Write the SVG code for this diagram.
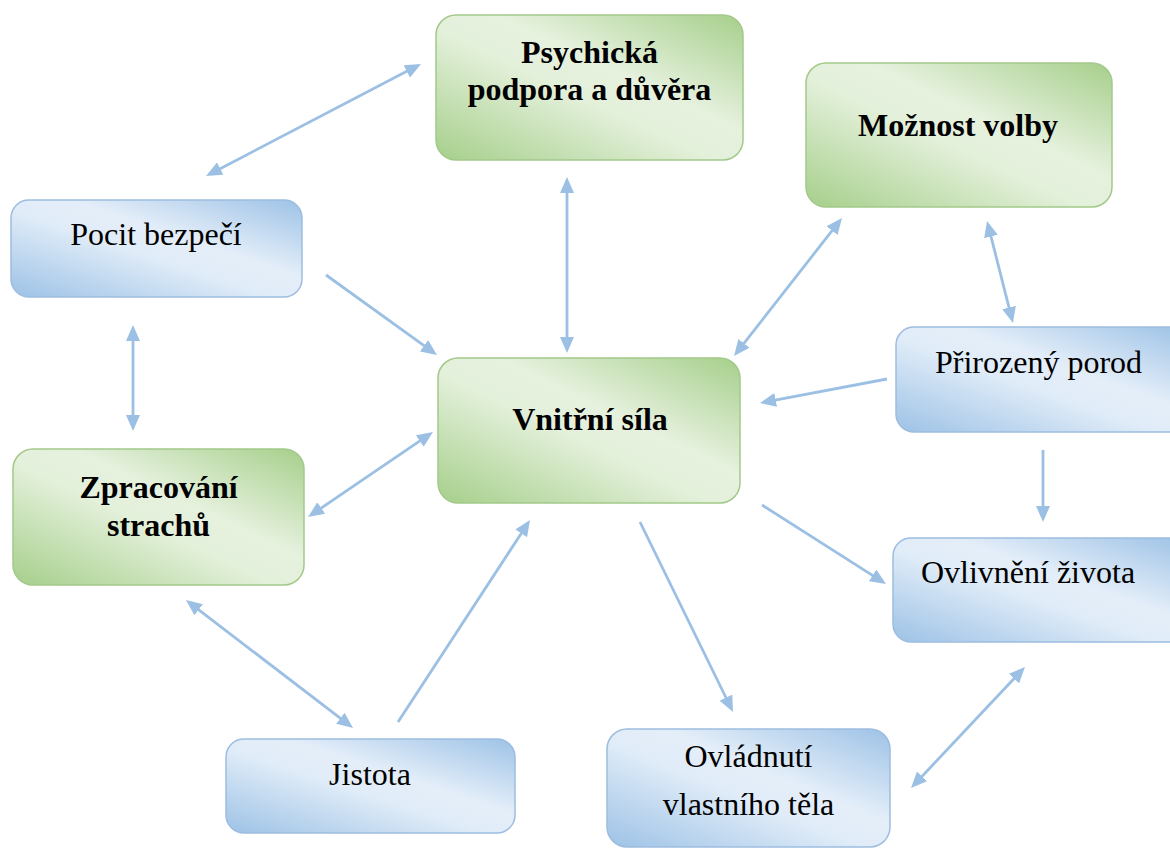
<svg xmlns="http://www.w3.org/2000/svg" width="1170" height="850" viewBox="0 0 1170 850">
<defs>
<linearGradient id="gGreen" x1="0" y1="1" x2="1" y2="0">
<stop offset="0" stop-color="#a6cf8b"/>
<stop offset="0.45" stop-color="#e3f0da"/>
<stop offset="0.6" stop-color="#e6f1de"/>
<stop offset="1" stop-color="#a6cf8b"/>
</linearGradient>
<linearGradient id="gBlue" x1="0" y1="1" x2="1" y2="0">
<stop offset="0" stop-color="#9dc2e6"/>
<stop offset="0.45" stop-color="#e0ecf8"/>
<stop offset="0.6" stop-color="#e4eef9"/>
<stop offset="1" stop-color="#9dc2e6"/>
</linearGradient>
<marker id="ah" markerUnits="userSpaceOnUse" markerWidth="16" markerHeight="14" refX="6" refY="7" orient="auto-start-reverse">
<path d="M0,0 L16,7 L0,14 z" fill="#9cc0e4"/>
</marker>
</defs>
<style>
.green rect{fill:url(#gGreen);stroke:#a3c98a;stroke-width:1.5}
.blue rect{fill:url(#gBlue);stroke:#9dbde0;stroke-width:1.5}
.green text{font-family:"Liberation Serif","Times New Roman",serif;font-size:32px;font-weight:bold;fill:#000;text-anchor:middle}
.blue text{font-family:"Liberation Serif","Times New Roman",serif;font-size:32px;fill:#000;text-anchor:middle}
#connectors line{stroke:#9cc0e4;stroke-width:2.8;fill:none}
.one{marker-end:url(#ah)}
.two{marker-start:url(#ah);marker-end:url(#ah)}
</style>
<rect x="0" y="0" width="1170" height="850" fill="#ffffff"/>
<g id="connectors">
<line class="two" x1="214.9" y1="171.4" x2="412.1" y2="68.6"/>
<line class="two" x1="567" y1="187" x2="567" y2="343"/>
<line class="two" x1="740.2" y1="348.1" x2="835.8" y2="225.9"/>
<line class="two" x1="989.5" y1="230.7" x2="1010.5" y2="313.3"/>
<line class="one" x1="887" y1="379" x2="769.8" y2="401.1"/>
<line class="one" x1="326" y1="275" x2="428.9" y2="349.2"/>
<line class="two" x1="133" y1="335" x2="133" y2="421"/>
<line class="two" x1="316.3" y1="511.4" x2="424.7" y2="437.6"/>
<line class="two" x1="193.9" y1="606.1" x2="345.1" y2="721.9"/>
<line class="one" x1="398" y1="722" x2="524.5" y2="528.4"/>
<line class="one" x1="640" y1="522" x2="728.6" y2="703"/>
<line class="one" x1="762" y1="505" x2="877.6" y2="578.6"/>
<line class="one" x1="1043" y1="450" x2="1043" y2="512"/>
<line class="two" x1="917.9" y1="780.7" x2="1018.1" y2="674.3"/>
</g>
<g id="psychicka" class="green">
<rect x="436" y="15" width="307" height="145" rx="20"/>
<text x="589.5" y="63">Psychická</text>
<text x="589.5" y="100">podpora a důvěra</text>
</g>
<g id="moznost" class="green">
<rect x="806" y="63" width="306" height="144" rx="20"/>
<text x="958" y="136">Možnost volby</text>
</g>
<g id="pocit" class="blue">
<rect x="11" y="200" width="291" height="97" rx="18"/>
<text x="156" y="245">Pocit bezpečí</text>
</g>
<g id="vnitrni" class="green">
<rect x="438" y="358" width="302" height="145" rx="20"/>
<text x="590" y="430">Vnitřní síla</text>
</g>
<g id="prirozeny" class="blue">
<rect x="896" y="327" width="290" height="105" rx="18"/>
<text x="1038.5" y="373">Přirozený porod</text>
</g>
<g id="zpracovani" class="green">
<rect x="13" y="449" width="291" height="136" rx="20"/>
<text x="158.5" y="498">Zpracování</text>
<text x="158.5" y="536">strachů</text>
</g>
<g id="ovlivneni" class="blue">
<rect x="893" y="538" width="293" height="104" rx="18"/>
<text x="1028" y="583">Ovlivnění života</text>
</g>
<g id="jistota" class="blue">
<rect x="226" y="739" width="289" height="94" rx="18"/>
<text x="370" y="785">Jistota</text>
</g>
<g id="ovladnuti" class="blue">
<rect x="607" y="729" width="283" height="118" rx="20"/>
<text x="748.5" y="767">Ovládnutí</text>
<text x="748.5" y="815">vlastního těla</text>
</g>
</svg>
